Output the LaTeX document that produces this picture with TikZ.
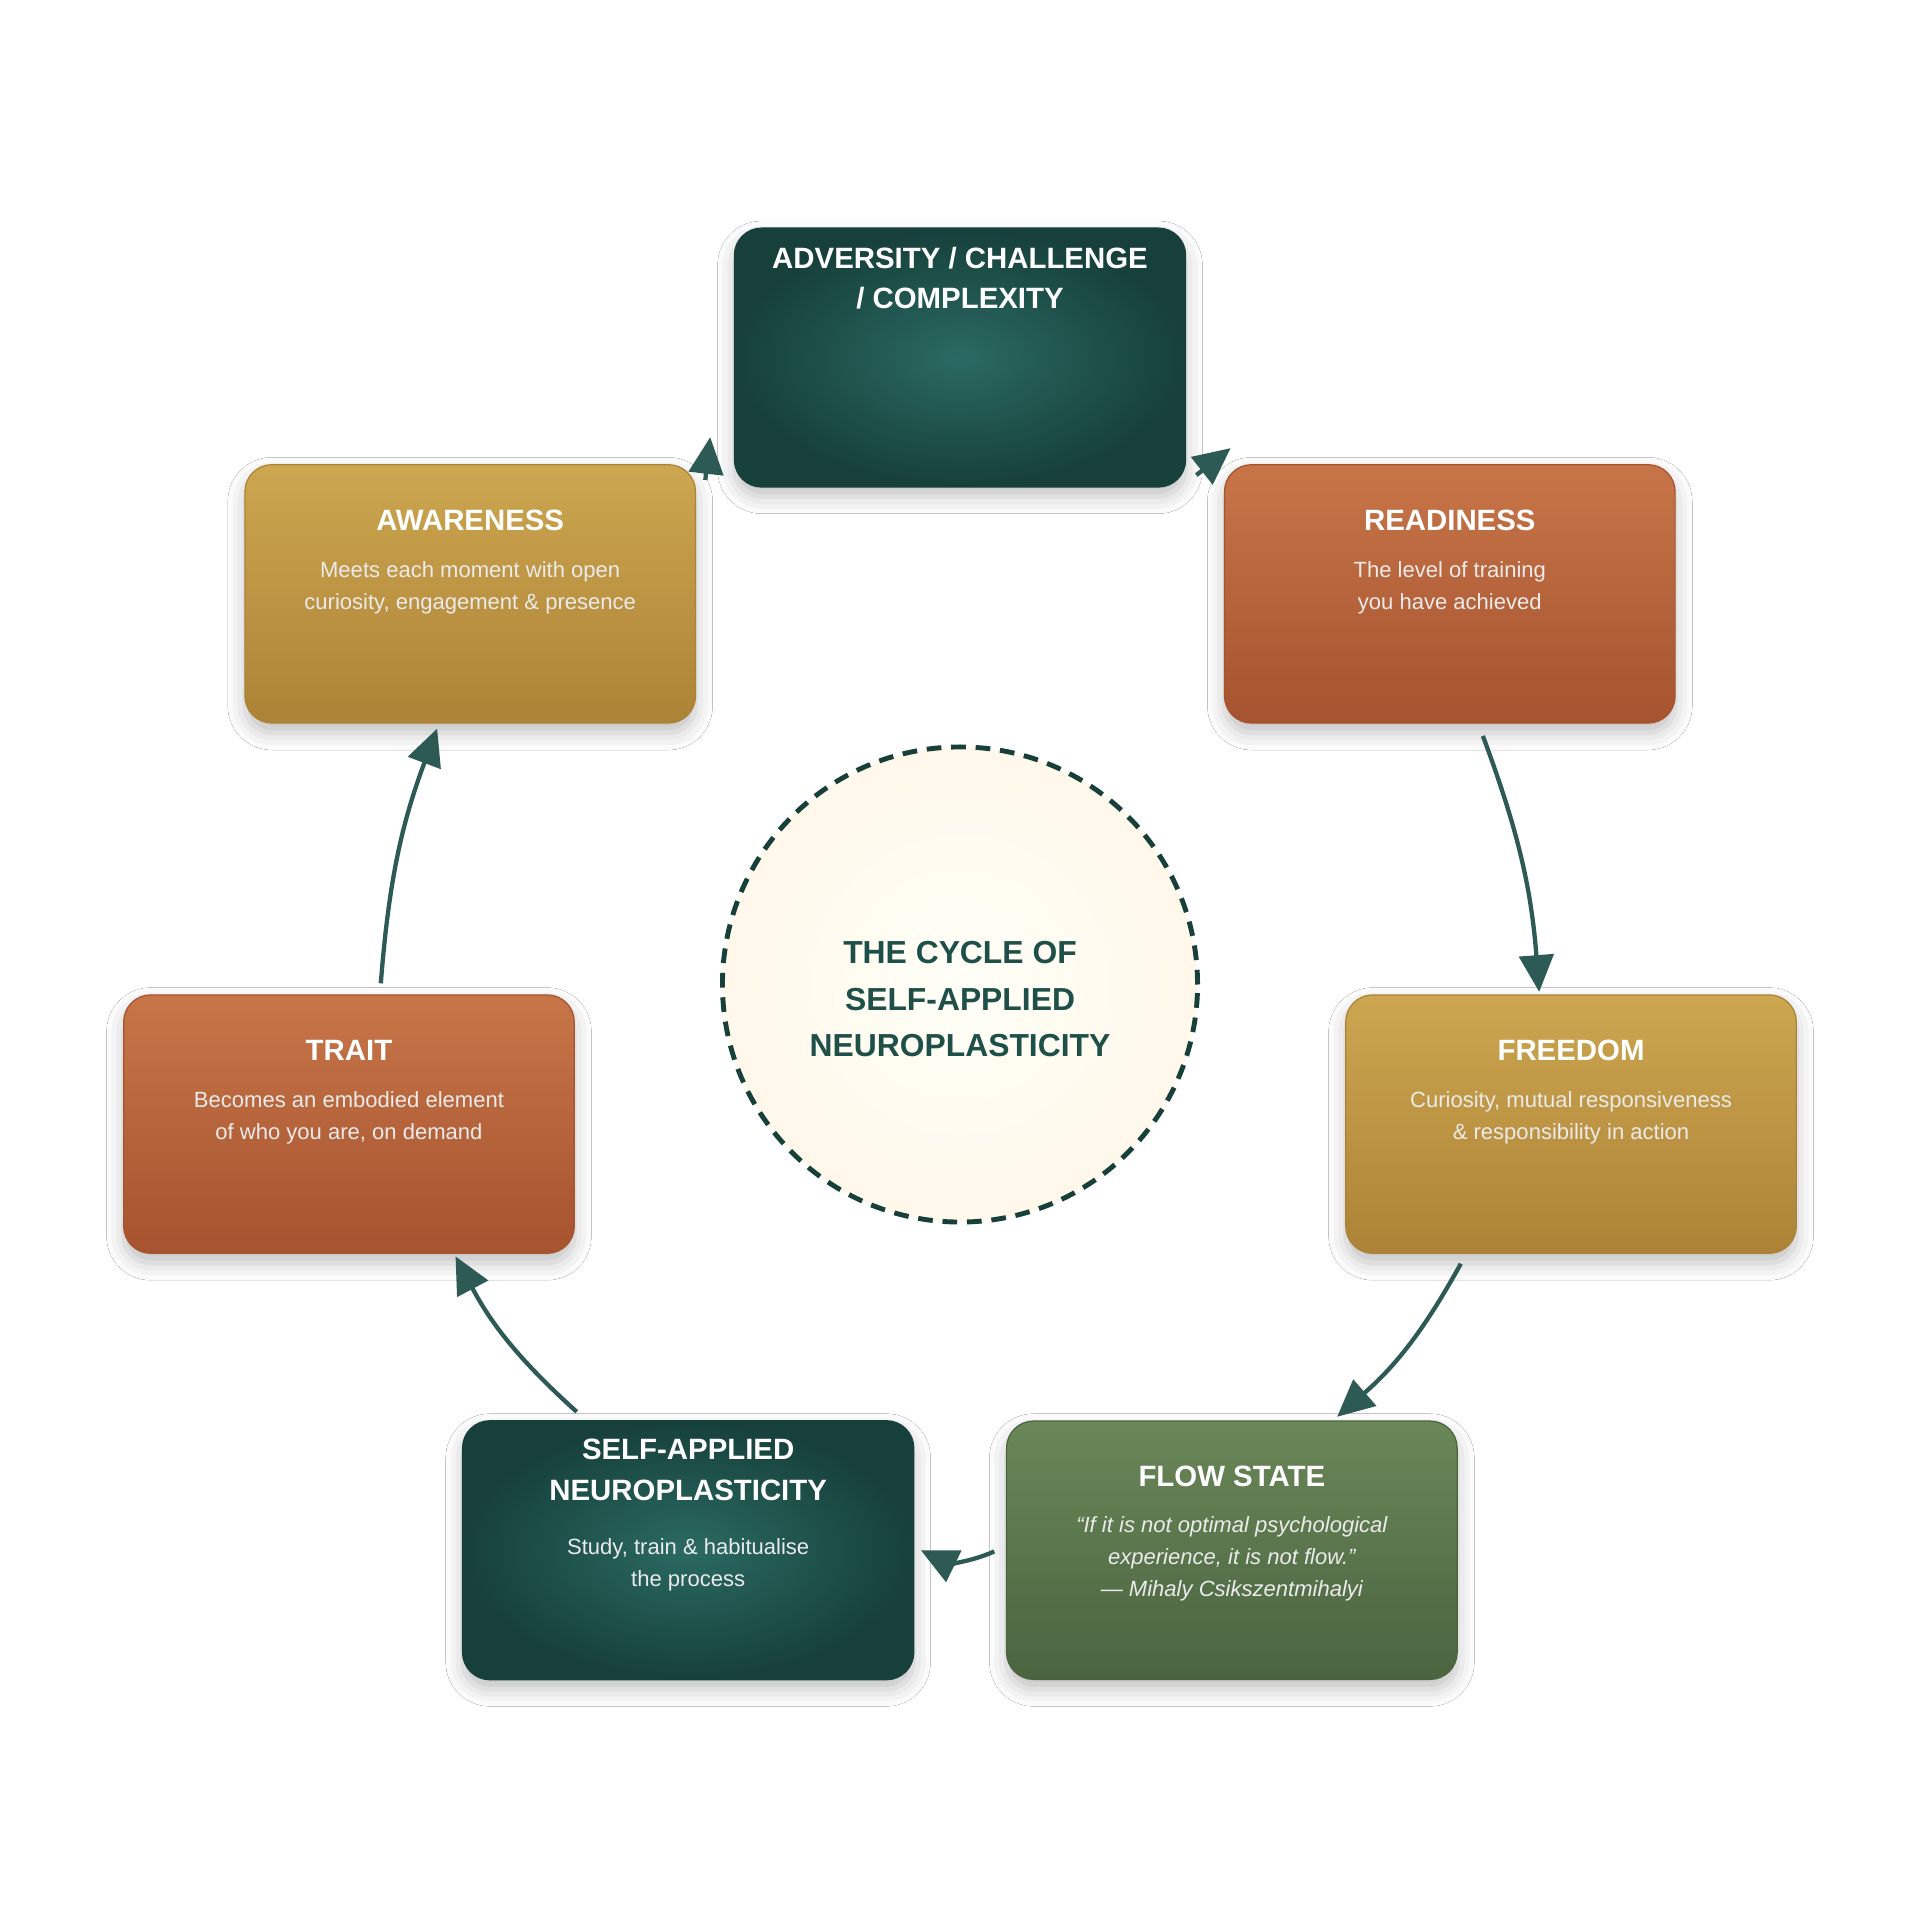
\documentclass[tikz,border=0pt]{standalone}
\usepackage{fontspec}
\setmainfont{Liberation Sans}
\usetikzlibrary{arrows.meta,shadows.blur}
\definecolor{teal}{HTML}{22564F}
\definecolor{tealL}{HTML}{2A6A62}
\definecolor{tealD}{HTML}{17403B}
\definecolor{goldL}{HTML}{CDA650}
\definecolor{goldD}{HTML}{AC8336}
\definecolor{orL}{HTML}{C77548}
\definecolor{orD}{HTML}{A6532F}
\definecolor{grL}{HTML}{6A8758}
\definecolor{grD}{HTML}{4A6440}
\definecolor{arr}{HTML}{2E5A55}
\definecolor{ctext}{HTML}{1F4F49}
\begin{document}
\begin{tikzpicture}[x=1pt,y=-1pt,
  box/.style={rounded corners=22pt,minimum width=368pt,minimum height=211pt,
    blur shadow={shadow xshift=0pt,shadow yshift=-8pt,shadow blur radius=14pt,shadow opacity=25}},
  tl/.style={font=\bfseries\fontsize{24}{33}\selectfont,text=white,align=center},
  ds/.style={font=\fontsize{18}{26}\selectfont,text=white!92!black,align=center},
  ar/.style={draw=arr,line width=3.5pt,-{Triangle[length=30pt,width=28pt]}}]
\useasboundingbox (0,0) rectangle (1568,1568);
\fill[white] (0,0) rectangle (1568,1568);
% boxes
\node[box,draw=tealD,line width=1.5pt,inner color=tealL,outer color=tealD] (adv) at (784,292) {};
\node[box,draw=goldD,line width=1pt,top color=goldL,bottom color=goldD] (awa) at (384,485) {};
\node[box,draw=orD,line width=1pt,top color=orL,bottom color=orD] (rea) at (1184,485) {};
\node[box,draw=orD,line width=1pt,top color=orL,bottom color=orD] (tra) at (285,918) {};
\node[box,draw=goldD,line width=1pt,top color=goldL,bottom color=goldD] (fre) at (1283,918) {};
\node[box,draw=tealD,line width=1.5pt,inner color=tealL,outer color=tealD] (sel) at (562,1266) {};
\node[box,draw=grD,line width=1pt,top color=grL,bottom color=grD] (flo) at (1006,1266) {};
% texts
\node[tl,anchor=north] (advt) at (784,198) {ADVERSITY / CHALLENGE\\/ COMPLEXITY};
\node[tl] (awat) at (384,425) {AWARENESS};
\node[ds] (awad) at (384,480) {Meets each moment with open\\curiosity, engagement \& presence};
\node[tl] (reat) at (1184,425) {READINESS};
\node[ds] (read) at (1184,480) {The level of training\\you have achieved};
\node[tl] (trat) at (285,858) {TRAIT};
\node[ds] (trad) at (285,913) {Becomes an embodied element\\of who you are, on demand};
\node[tl] (fret) at (1283,858) {FREEDOM};
\node[ds] (fred) at (1283,913) {Curiosity, mutual responsiveness\\\& responsibility in action};
\node[tl,anchor=north] (selt) at (562,1172) {SELF-APPLIED\\NEUROPLASTICITY};
\node[ds] (seld) at (562,1278) {Study, train \& habitualise\\the process};
\node[tl] (flot) at (1006,1206) {FLOW STATE};
\node[ds,font=\itshape\fontsize{18}{26}\selectfont] (flod) at (1006,1273) {“If it is not optimal psychological\\experience, it is not flow.”\\— Mihaly Csikszentmihalyi};
% centre
\node[circle,minimum size=388pt,inner color=white!60!yellow!8,outer color=yellow!30!orange!8!white,
  draw=tealD,line width=4pt,dash pattern=on 12pt off 8pt] (cen) at (784,804) {};
\node[font=\bfseries\fontsize{26}{38}\selectfont,text=ctext,align=center] (cent) at (784,816) {THE CYCLE OF\\SELF-APPLIED\\NEUROPLASTICITY};
% arrows
\coordinate (a1s) at (576,392); \coordinate (a1e) at (580,357);
\coordinate (a2s) at (977,388); \coordinate (a2e) at (1005,366);
\coordinate (a3s) at (1211,601); \coordinate (a3e) at (1257,810);
\coordinate (a4s) at (1193,1032); \coordinate (a4e) at (1092,1157);
\coordinate (a5s) at (812,1267); \coordinate (a5e) at (752,1266);
\coordinate (a6s) at (471,1153); \coordinate (a6e) at (372,1026);
\coordinate (a7s) at (311,803); \coordinate (a7e) at (357,595);
\draw[ar] (a1s) -- (a1e);
\draw[ar] (a2s) -- (a2e);
\draw[ar] (a3s) to[bend left=8] (a3e);
\draw[ar] (a4s) to[bend left=10] (a4e);
\draw[ar] (a5s) to[bend left=25] (a5e);
\draw[ar] (a6s) to[bend left=10] (a6e);
\draw[ar] (a7s) to[bend left=8] (a7e);
\end{tikzpicture}
\end{document}
